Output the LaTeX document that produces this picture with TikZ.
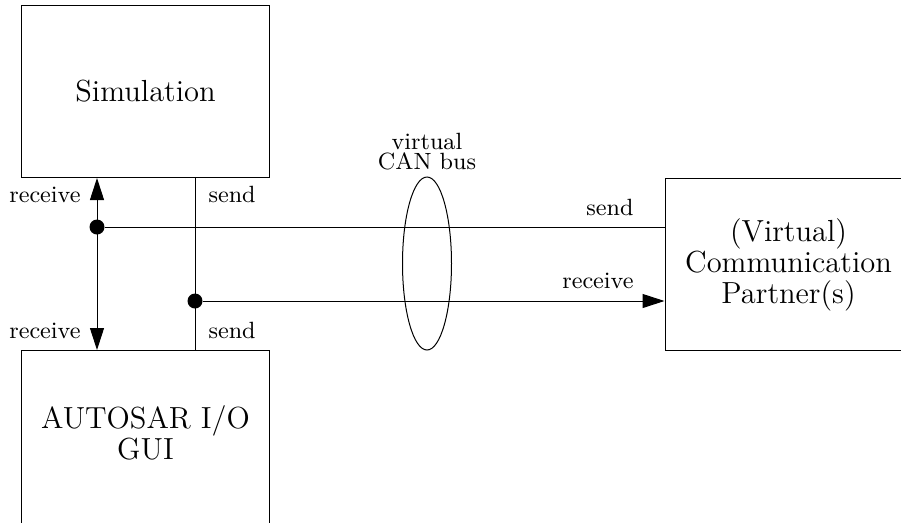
\documentclass[tikz,border=0pt]{standalone}
\usetikzlibrary{arrows.meta, positioning, shapes.geometric}
\tikzset{
>={Triangle[length=8.8pt,width=5.6pt]}, % long filled arrow heads
block/.style={draw, minimum width=98.8pt, minimum height=68.8pt, align=center, font=\fontsize{12.2}{12.4}\selectfont}, % the three components
lbl/.style={inner sep=0pt, font=\fontsize{9.4}{8}\selectfont}, % send/receive labels
dot/.style={circle, fill, inner sep=0pt, minimum size=6pt}, % junctions
}

\begin{document}
\begin{tikzpicture}[x=0.4pt, y=-0.4pt]
\useasboundingbox (0,0) rectangle (901,522);
\clip (0,0) rectangle (901,522);
% the components
\node[block] (sim) at (145.5,91.5) {Simulation};
\node[block, minimum height=70pt, text depth=4.4pt, below=68.8pt of sim] (gui) {AUTOSAR I/O\\GUI};
\node[block, below right=0pt and 158pt of sim] (partner) {(Virtual)\\Communication\\Partner(s)};
% the bus
\node[ellipse, draw, inner sep=0pt, minimum width=19.6pt, minimum height=69.2pt] (bus) at (427,263.5) {};
\node[lbl, align=center, above=2.4pt of bus] (buslabel) {virtual\\CAN bus};
% junctions
\node[dot] (rdot) at (97,227) {};
\node[dot] (sdot) at (195,301) {};
% receive line
\draw[<->] (sim.south -| rdot) -- (gui.north -| rdot);
\draw (rdot) -- (rdot -| partner.west);
% send line
\draw (sim.south -| sdot) -- (gui.north -| sdot);
\draw[->] (sdot) -- (sdot -| partner.west);
% labels
\node[lbl, anchor=base east] (rsim) at (81,202) {receive};
\node[lbl, anchor=base east] (rgui) at (81,338) {receive};
\node[lbl, anchor=base west] (ssim) at (208,202) {send};
\node[lbl, anchor=base west] (sgui) at (208,338) {send};
\node[lbl, anchor=base east] (spartner) at (634,215) {send};
\node[lbl, anchor=base east] (rpartner) at (634,288) {receive};
\end{tikzpicture}
\end{document}
